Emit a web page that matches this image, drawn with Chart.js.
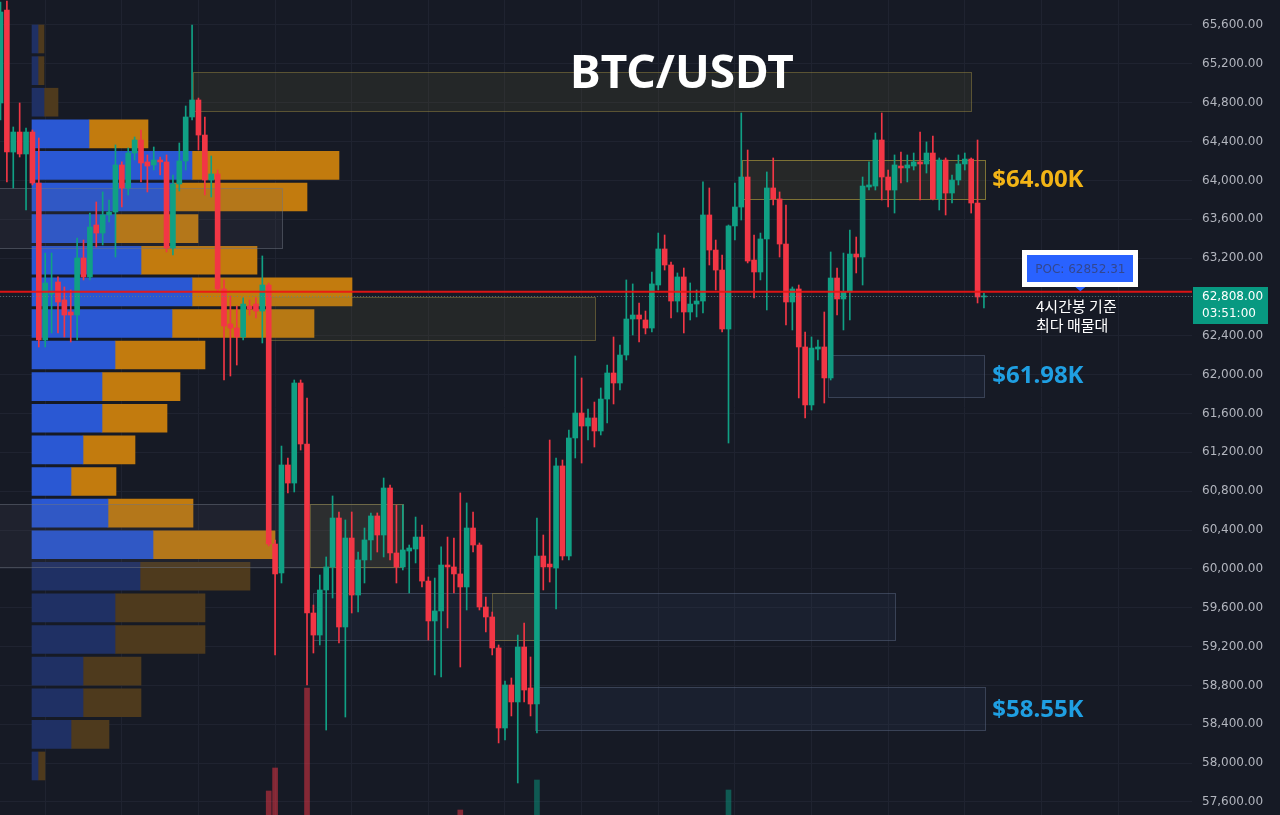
<!DOCTYPE html>
<html><head><meta charset="utf-8">
<script src="https://cdn.jsdelivr.net/npm/chart.js@4.4.1/dist/chart.umd.min.js"></script>
<style>html,body{margin:0;padding:0;background:#161a25;overflow:hidden}canvas{display:block}</style>
</head><body>
<canvas id="c" width="1280" height="815"></canvas>
<script>
// ---- 4h candles (BTC/USDT) ----
const opens  = [64797,65754,64292,64498,64272,64498,63973,62357,62831,62954,62769,62645,62614,63201,63006,63541,63458,63644,63675,64159,63922,64282,64416,64190,64159,64210,64190,63304,63963,64200,64653,64828,64467,64004,64066,62882,62522,62480,62388,62707,62727,62655,62923,60256,59958,61070,60884,61914,61286,59546,59319,59783,60020,60524,59402,60318,59731,60092,60298,60545,60349,60833,60164,60020,60184,60205,60328,59875,59464,59567,60040,60020,59948,59814,60421,60246,59608,59505,59186,58362,58805,58630,59196,58774,58609,60133,60050,60009,61060,60133,61348,61605,61471,61554,61420,61749,62017,61914,62202,62573,62614,62563,62480,62923,63294,63129,62758,63006,62645,62727,62758,63644,63283,63077,62470,63531,63726,64035,63180,63057,63397,63922,63809,63345,62748,62882,62285,61688,62264,62285,61966,62995,62779,62851,63242,63211,63932,63942,64416,64035,63901,64148,64128,64148,64190,64169,64282,63809,64210,63870,64004,64169,64220,63767,62800];
const highs  = [65837,65847,64550,64797,64539,64519,64437,63252,63252,63006,62903,62872,63407,63386,63664,63778,63881,63798,64365,64190,64334,64447,64519,64262,64344,64241,64262,64056,64385,64766,65600,64848,64653,64251,64107,62975,62810,62707,62790,62769,62790,63222,62944,60298,61265,61142,61945,61945,61760,59628,59937,60123,60751,60586,60504,60586,60174,60421,60576,60576,60936,60864,60658,60658,60246,60534,60452,59917,59906,60226,60328,60318,60782,60679,60586,60267,59711,59556,59217,58846,58877,59319,59443,59093,60524,60349,61327,61142,61121,61430,62192,61966,61646,61718,61863,62099,62388,62305,62975,62934,62738,62655,63057,63458,63438,63160,63047,63098,62944,62872,63984,63922,63386,63232,63541,63973,64694,64313,63438,63458,64087,64231,63881,63747,62903,62923,62439,62388,62357,62645,63263,63098,63252,63489,63417,64035,64190,64488,64694,64107,64262,64292,64262,64282,64498,64396,64457,64231,64231,64056,64262,64282,64231,64416,62841];
const lows   = [64622,63984,63922,64241,63695,63953,62285,62285,62429,62429,62388,62336,62357,62975,62975,63314,63335,63572,63211,63726,63850,64210,63984,63881,64107,64056,63263,63232,63891,64107,64622,64313,63850,63829,62851,61945,61986,62099,62357,62614,62583,62326,60236,59114,59855,60782,60792,61224,58805,59134,59217,58341,59700,59237,58475,59546,59556,59855,60092,60174,60123,60092,59855,59989,59752,60061,59814,59268,58908,58887,59392,59752,58990,59577,60174,59577,59350,59114,58208,58238,58486,57796,58630,58486,58310,59783,59865,59587,60092,60092,61142,61090,61327,61255,61379,61502,61698,61842,62151,62408,62336,62419,62439,62872,63077,62583,62645,62429,62563,62594,62635,63129,62872,62439,61296,63386,63592,63150,62790,62975,62666,63747,63211,62511,62460,61760,61554,61636,62151,61708,61945,62614,62460,62563,63047,62923,63901,63901,63798,63726,63664,63973,63984,64107,63798,64076,63798,63695,63644,63767,63953,64107,63664,62738,62686];
const closes = [65734,64292,64498,64272,64498,63973,62357,62944,62851,62748,62614,62614,63201,63006,63520,63458,63644,63675,64159,63922,64282,64416,64179,64148,64210,64190,63304,63963,64200,64653,64828,64467,64004,64066,62882,62501,62480,62388,62727,62676,62655,62923,60256,59948,61070,60884,61914,61286,59546,59319,59783,60020,60524,59402,60318,59731,60092,60298,60545,60349,60833,60164,60020,60195,60215,60328,59875,59464,59567,60040,60020,59948,59814,60421,60246,59608,59505,59186,58362,58805,58630,59196,58753,58609,60133,60020,60020,61060,60133,61348,61605,61471,61554,61420,61749,62017,61914,62202,62573,62614,62573,62480,62934,63294,63129,62758,63006,62645,62727,62758,63644,63283,63077,62470,63531,63726,64035,63170,63057,63397,63922,63809,63345,62748,62882,62285,61688,62274,62285,61966,62995,62779,62851,63242,63211,63942,63953,64416,64035,63901,64159,64128,64159,64190,64169,64282,63809,64210,63870,64004,64169,64220,63767,62800,62808];

// visible volume bars (bottom of pane)
const volIdx = [42, 43, 48, 72, 84, 114];
const volVal = [24, 47, 127, 5, 35, 25];

// volume profile (visible range)
const vpPrice = [65456,65130,64805,64479,64154,63829,63503,63178,62852,62527,62202,61876,61551,61225,60900,60575,60249,59924,59598,59273,58948,58622,58297,57971];
const vpUp    = [6,6,12,57,160,142,83,109,160,140,83,70,70,51,39,76,121,108,83,83,51,51,39,6];
const vpDown  = [6,6,14,59,147,133,83,116,160,142,90,78,65,52,45,85,122,110,90,90,58,58,38,7];
const vaHigh = 64479, vaLow = 60249;
const pocPrice = 62852.31;
const lastPrice = 62808;
const lastTimer = '03:51:00';

// axis ticks
const yTicks = [57600,58000,58400,58800,59200,59600,60000,60400,60800,61200,61600,62000,62400,62800,63200,63600,64000,64400,64800,65200,65600];
const xGridIdx = [7,19,31,43,55,67,79,91,103,115,127,139,151,163,175];

// drawn zones (candle index / price)
const boxX0   = [30.1, 116.1, -0.2, 41.5, 129.6, -0.2, 48.5, 48.9, 77.0, 83.7];
const boxX1   = [152.0, 154.2, 44.1, 93.1, 154.0, 63.0, 63.0, 140.1, 83.9, 154.2];
const boxTop  = [65116, 64210, 63922, 62800, 62202, 60668, 60668, 59752, 59752, 58784];
const boxBot  = [64715, 63809, 63304, 62357, 61770, 60020, 60020, 59268, 59268, 58341];
const boxKind = ['gold','gold2','grey','gold','blue','grey','gold','blue','gold','blue'];

const levelText  = ['$64.00K', '$61.98K', '$58.55K'];
const levelPrice = [64000, 61980, 58550];
const levelColor = ['#f2b416', '#1f9fe2', '#1f9fe2'];

const UP = '#10a084', DOWN = '#f23645';
const idx = opens.map((_, i) => i);
const isUp = idx.map(i => closes[i] >= opens[i]);

const X_MIN = -0.5 / 6.386, X_MAX = X_MIN + 1192 / 6.386;
const Y_MAX = 65600 + 25 * 8000 / 777, Y_MIN = 57600 - 13 * 8000 / 777;

const BOX_STYLE = {
  gold:  {fill: 'rgba(120,115,60,0.15)', stroke: 'rgba(140,128,64,0.55)'},
  gold2: {fill: 'rgba(120,115,60,0.17)', stroke: 'rgba(165,150,60,0.7)'},
  grey:  {fill: 'rgba(90,95,110,0.13)',  stroke: 'rgba(110,115,130,0.5)'},
  blue:  {fill: 'rgba(50,70,100,0.16)',  stroke: 'rgba(75,88,112,0.65)'}
};

const AXIS_FONT = '12px "DejaVu Sans", sans-serif';

const overlay = {
  id: 'overlay',
  afterDatasetDraw(chart, args) {
    if (args.index !== 3) return;
    const {ctx, chartArea: a} = chart;
    const xs = chart.scales.x, ys = chart.scales.y;
    ctx.save();
    ctx.beginPath(); ctx.rect(a.left, a.top, a.width, a.height); ctx.clip();
    for (let b = 0; b < boxKind.length; b++) {
      const st = BOX_STYLE[boxKind[b]];
      const x0 = Math.round(xs.getPixelForValue(boxX0[b])) + 0.5;
      const x1 = Math.round(xs.getPixelForValue(boxX1[b])) + 0.5;
      const y0 = Math.round(ys.getPixelForValue(boxTop[b])) + 0.5;
      const y1 = Math.round(ys.getPixelForValue(boxBot[b])) + 0.5;
      ctx.fillStyle = st.fill;
      ctx.fillRect(x0, y0, x1 - x0, y1 - y0);
      ctx.strokeStyle = st.stroke; ctx.lineWidth = 1;
      ctx.strokeRect(x0, y0, x1 - x0, y1 - y0);
    }
    ctx.restore();
  },
  afterDatasetsDraw(chart) {
    const {ctx, chartArea: a} = chart;
    const ys = chart.scales.y;
    ctx.save();
    const yl = Math.round(ys.getPixelForValue(lastPrice)) + 0.5;
    ctx.strokeStyle = 'rgba(110,125,130,0.7)'; ctx.lineWidth = 1; ctx.setLineDash([1, 2]);
    ctx.beginPath(); ctx.moveTo(a.left, yl); ctx.lineTo(a.right, yl); ctx.stroke();
    ctx.setLineDash([]);
    const yp = ys.getPixelForValue(pocPrice);
    ctx.strokeStyle = 'rgba(238,20,20,0.92)'; ctx.lineWidth = 2;
    ctx.beginPath(); ctx.moveTo(a.left, yp); ctx.lineTo(a.right, yp); ctx.stroke();
    ctx.restore();
  },
  afterDraw(chart) {
    const {ctx, chartArea: a} = chart;
    const xs = chart.scales.x, ys = chart.scales.y;
    ctx.save();
    ctx.fillStyle = '#ffffff';
    ctx.font = 'bold 46px "Noto Sans", "Open Sans", sans-serif';
    ctx.textAlign = 'center'; ctx.textBaseline = 'alphabetic';
    ctx.fillText('BTC/USDT', 682, 88);
    ctx.font = 'bold 24px "Noto Sans", "Open Sans", sans-serif';
    ctx.textAlign = 'left'; ctx.textBaseline = 'middle';
    const lx = xs.getPixelForValue(154.2) + 7;
    for (let k = 0; k < levelText.length; k++) {
      ctx.fillStyle = levelColor[k];
      ctx.fillText(levelText[k], lx, ys.getPixelForValue(levelPrice[k]));
    }
    const yp = ys.getPixelForValue(pocPrice);
    const cx = xs.getPixelForValue(169.1);
    const bw = 116, bh = 37;
    const bx = Math.round(cx - bw / 2), by = Math.round(yp - 5 - bh);
    ctx.fillStyle = '#ffffff';
    ctx.fillRect(bx, by, bw, bh);
    ctx.fillStyle = '#2962ff';
    ctx.fillRect(bx + 5, by + 5, bw - 10, bh - 10);
    ctx.beginPath();
    ctx.moveTo(cx - 5, by + bh); ctx.lineTo(cx + 5, by + bh); ctx.lineTo(cx, yp - 0.5); ctx.closePath();
    ctx.fill();
    ctx.fillStyle = '#33478f';
    ctx.font = AXIS_FONT;
    ctx.textAlign = 'center';
    ctx.fillText('POC: ' + pocPrice.toFixed(2), cx, by + bh / 2 + 1);
    ctx.fillStyle = '#ffffff';
    ctx.font = '15px "Noto Sans CJK KR", sans-serif';
    ctx.textAlign = 'left';
    ctx.fillText('4시간봉 기준', bx + 14, yp + 14);
    ctx.fillText('최다 매물대', bx + 14, yp + 33);
    const yl = ys.getPixelForValue(lastPrice);
    ctx.fillStyle = '#089981';
    ctx.fillRect(a.right + 1, Math.round(yl - 9), 75, 37);
    ctx.fillStyle = '#ffffff';
    ctx.font = AXIS_FONT;
    ctx.fillText(lastPrice.toLocaleString('en-US', {minimumFractionDigits: 2, maximumFractionDigits: 2}), a.right + 10, yl + 1);
    ctx.fillText(lastTimer, a.right + 10, yl + 18);
    ctx.restore();
  }
};

const vpColorUp = vpPrice.map(p => (p <= vaHigh && p >= vaLow) ? '#2a58d3' : '#1f3064');
const vpColorDn = vpPrice.map(p => (p <= vaHigh && p >= vaLow) ? '#c27b0e' : '#4e3a1d');

new Chart(document.getElementById('c'), {
  data: {
    datasets: [
      { type: 'bar', label: 'body', order: 1, grouped: false, xAxisID: 'x', yAxisID: 'y',
        data: idx.map(i => ({x: i, y: [Math.min(opens[i], closes[i]), Math.max(opens[i], closes[i])]})),
        backgroundColor: idx.map(i => isUp[i] ? UP : DOWN), barThickness: 5, minBarLength: 1, borderWidth: 0 },
      { type: 'bar', label: 'wick', order: 2, grouped: false, xAxisID: 'x', yAxisID: 'y',
        data: idx.map(i => ({x: i, y: [lows[i], highs[i]]})),
        backgroundColor: idx.map(i => isUp[i] ? UP : DOWN), barThickness: 1, borderWidth: 0 },
      { type: 'bar', label: 'volume', order: 3, grouped: false, xAxisID: 'x', yAxisID: 'yv',
        data: volIdx.map((v, k) => ({x: v, y: volVal[k]})),
        backgroundColor: volIdx.map(v => isUp[v] ? 'rgba(8,153,129,0.5)' : 'rgba(242,54,69,0.5)'), barThickness: 5, borderWidth: 0 },
      { type: 'bar', label: 'vpUp', order: 4, indexAxis: 'y', grouped: false, xAxisID: 'xv', yAxisID: 'y',
        data: vpPrice.map((p, k) => ({y: p, x: [0, vpUp[k]]})),
        backgroundColor: vpColorUp, barThickness: 28, borderWidth: 0 },
      { type: 'bar', label: 'vpDown', order: 5, indexAxis: 'y', grouped: false, xAxisID: 'xv', yAxisID: 'y',
        data: vpPrice.map((p, k) => ({y: p, x: [vpUp[k], vpUp[k] + vpDown[k]]})),
        backgroundColor: vpColorDn, barThickness: 28, borderWidth: 0 }
    ]
  },
  options: {
    responsive: false, animation: false, devicePixelRatio: 1,
    layout: {padding: 0},
    plugins: {legend: {display: false}, tooltip: {enabled: false}},
    scales: {
      x: { type: 'linear', position: 'bottom', min: X_MIN, max: X_MAX, offset: false,
        afterFit(s) { s.height = 0; },
        afterBuildTicks(s) { s.ticks = xGridIdx.map(v => ({value: v})); },
        ticks: {display: false}, grid: {color: '#1f2330', drawTicks: false, offset: false}, border: {display: false} },
      xv: { type: 'linear', display: false, min: -32, max: 1160, offset: false },
      y: { type: 'linear', position: 'right', min: Y_MIN, max: Y_MAX, offset: false,
        afterFit(s) { s.width = 88; s.paddingTop = 0; s.paddingBottom = 0; },
        afterBuildTicks(s) { s.ticks = yTicks.map(v => ({value: v})); },
        ticks: { color: '#b2b5be', padding: 10, font: {family: '"DejaVu Sans"', size: 12},
          callback: v => Number(v).toLocaleString('en-US', {minimumFractionDigits: 2, maximumFractionDigits: 2}) },
        grid: {color: '#1f2330', drawTicks: false, offset: false}, border: {display: false} },
      yv: { type: 'linear', display: false, min: 0, max: 815, offset: false }
    }
  },
  plugins: [overlay]
});
</script>
</body></html>
